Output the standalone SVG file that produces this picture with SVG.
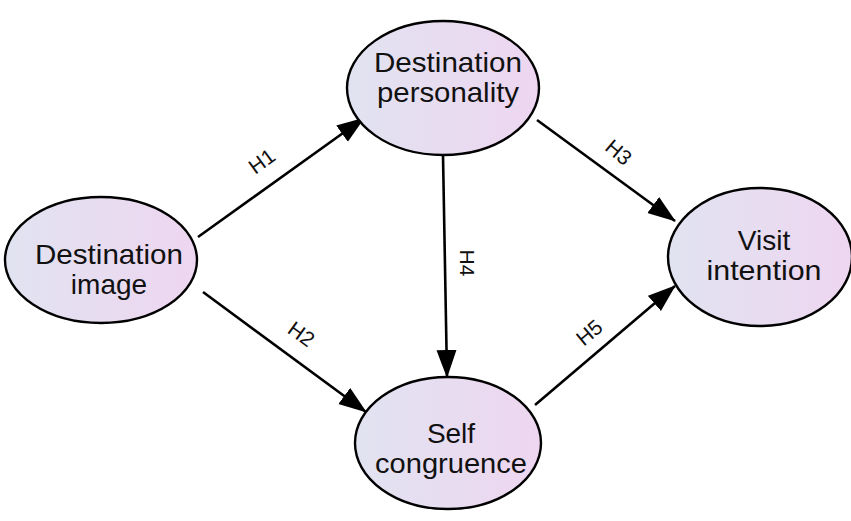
<svg xmlns="http://www.w3.org/2000/svg" width="851" height="521" viewBox="0 0 851 521">
<defs>
<linearGradient id="g" x1="0" y1="0" x2="1" y2="0">
<stop offset="0" stop-color="#e1e3f1"/>
<stop offset="1" stop-color="#eed6f0"/>
</linearGradient>
<marker id="ah" markerUnits="userSpaceOnUse" markerWidth="28" markerHeight="22" refX="27" refY="10" orient="auto">
<path d="M0,0 L28,10 L0,20 Z" fill="#000"/>
</marker>
<style>
.n{fill:url(#g);stroke:#000;stroke-width:2.4}
.t{font-family:"Liberation Sans",Arial,sans-serif;font-size:28px;fill:#111;text-anchor:middle}
.c{stroke:#000;stroke-width:2.6;fill:none;marker-end:url(#ah)}
.l{font-family:"Liberation Sans",Arial,sans-serif;font-size:21px;fill:#111;text-anchor:middle}
</style>
</defs>
<g id="connectors">
<line class="c" x1="198" y1="237" x2="364" y2="118"/>
<line class="c" x1="203" y1="292" x2="366" y2="412"/>
<line class="c" x1="537" y1="120" x2="675" y2="221"/>
<line class="c" x1="443" y1="155" x2="447" y2="377"/>
<line class="c" x1="535" y1="405" x2="675" y2="286"/>
<text class="l" transform="translate(266,167) rotate(-36)">H1</text>
<text class="l" transform="translate(297,340) rotate(36)">H2</text>
<text class="l" transform="translate(614,158) rotate(40)">H3</text>
<text class="l" transform="translate(460,263) rotate(90)">H4</text>
<text class="l" transform="translate(594,338) rotate(-40)">H5</text>
</g>
<g id="destination-personality">
<ellipse class="n" cx="443" cy="88" rx="96" ry="67"/>
<text class="t" x="448" y="72" textLength="148" lengthAdjust="spacingAndGlyphs">Destination</text>
<text class="t" x="448" y="102" textLength="142" lengthAdjust="spacingAndGlyphs">personality</text>
</g>
<g id="destination-image">
<ellipse class="n" cx="101" cy="260" rx="96" ry="63"/>
<text class="t" x="109" y="264" textLength="148" lengthAdjust="spacingAndGlyphs">Destination</text>
<text class="t" x="109" y="294">image</text>
</g>
<g id="visit-intention">
<ellipse class="n" cx="760" cy="257" rx="92" ry="69"/>
<text class="t" x="764" y="250">Visit</text>
<text class="t" x="764" y="280" textLength="115" lengthAdjust="spacingAndGlyphs">intention</text>
</g>
<g id="self-congruence">
<ellipse class="n" cx="448" cy="443" rx="93" ry="66"/>
<text class="t" x="451" y="443">Self</text>
<text class="t" x="451" y="473" textLength="152" lengthAdjust="spacingAndGlyphs">congruence</text>
</g>
</svg>
